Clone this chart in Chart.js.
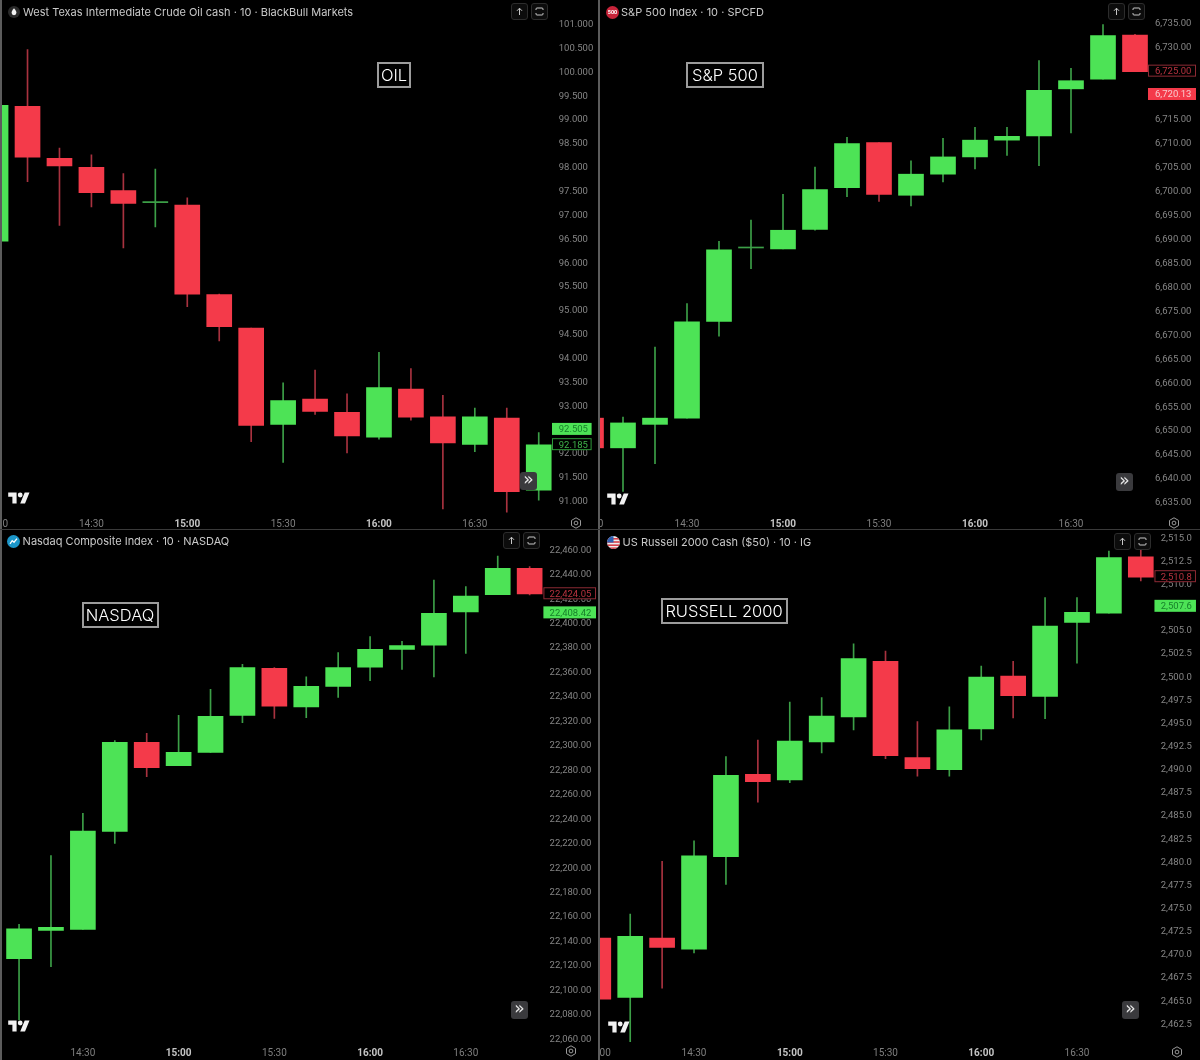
<!DOCTYPE html>
<html>
<head>
<meta charset="utf-8">
<title>Index futures 10m</title>
<script src="https://cdn.jsdelivr.net/npm/chart.js@4"></script>
<style>
	html, body { margin: 0; background: #000; }
	#page { position: relative; width: 1200px; height: 1060px; background: #000; overflow: hidden; }
	.panel { position: absolute; overflow: hidden; background: #000; }
	.panel canvas { position: absolute; top: 0; }
	.rule { position: absolute; background: #5c5c5c; }
	.title { position: absolute; color: #c9c9c9; font: 11px Inter, sans-serif; white-space: nowrap; line-height: 14px; }
	.tag { position: absolute; border: 2px solid #9c9c9c; color: #fff; font: 300 16.5px Inter, sans-serif; box-sizing: border-box; text-align: center; line-height: 22px; white-space: nowrap; }
	.btn { position: absolute; width: 17px; height: 17px; border: 1px solid #2c2c2c; border-radius: 3px; box-sizing: border-box; background: #0c0c0c; }
	.more { position: absolute; width: 17px; height: 18px; border-radius: 3px; background: #3a3a3d; color: #e6e6e6; font: 17px/15px "DejaVu Sans", sans-serif; text-align: center; }
	svg.abs { position: absolute; }
</style>
</head>
<body>
<div id="page"></div>
<script>
// bar times, 10 minute candles
const times = ["14:00", "14:10", "14:20", "14:30", "14:40", "14:50", "15:00", "15:10", "15:20", "15:30", "15:40", "15:50", "16:00", "16:10", "16:20", "16:30", "16:40", "16:50"]
const nasdaqTimes = times.slice(1)
const timeLabels = ["14:00", "14:30", "15:00", "15:30", "16:00", "16:30"]
const boldTimes = ["15:00", "16:00"]

const oilOpen = [96.44, 99.27, 98.18, 97.99, 97.50, 97.25, 97.20, 95.32, 94.62, 92.60, 93.13, 92.85, 92.33, 93.34, 92.76, 92.18, 92.73, 91.22]
const oilClose = [99.29, 98.20, 98.02, 97.46, 97.23, 97.27, 95.33, 94.65, 92.58, 93.10, 92.87, 92.36, 93.37, 92.75, 92.21, 92.76, 91.19, 92.17]
const oilHigh = [99.29, 100.46, 98.39, 98.25, 97.86, 97.95, 97.35, 95.33, 94.62, 93.47, 93.74, 93.24, 94.11, 93.77, 93.21, 92.94, 92.94, 92.43]
const oilLow = [96.44, 97.69, 96.77, 97.16, 96.30, 96.74, 95.07, 94.35, 92.24, 91.80, 92.81, 92.00, 92.29, 92.69, 90.83, 92.03, 90.76, 91.01]
const oilTicks = [101, 100.5, 100, 99.5, 99, 98.5, 98, 97.5, 97, 96.5, 96, 95.5, 95, 94.5, 94, 93.5, 93, 92.5, 92, 91.5, 91]
const oilTagValues = [92.505, 92.185]
const oilTagFilled = [true, false]
const oilTagUp = [true, true]

const spxOpen = [6652.5, 6646.3, 6651.2, 6652.5, 6672.7, 6688.0, 6687.8, 6691.9, 6700.6, 6710.0, 6699.0, 6703.4, 6707.0, 6710.5, 6711.4, 6721.2, 6723.2, 6732.4]
const spxClose = [6646.3, 6651.5, 6652.5, 6672.6, 6687.6, 6688.2, 6691.7, 6700.2, 6709.8, 6699.2, 6703.4, 6707.0, 6710.5, 6711.3, 6720.9, 6722.9, 6732.3, 6724.8]
const spxHigh = [6652.5, 6652.7, 6667.3, 6676.4, 6689.4, 6693.8, 6699.2, 6704.9, 6711.1, 6710.0, 6706.2, 6710.9, 6713.2, 6713.2, 6727.1, 6725.5, 6734.6, 6732.6]
const spxLow = [6646.3, 6637.2, 6643.0, 6652.5, 6669.6, 6683.7, 6687.8, 6691.7, 6698.7, 6697.7, 6696.8, 6701.8, 6704.5, 6707.3, 6705.2, 6712.0, 6723.2, 6724.8]
const spxTicks = [6735, 6730, 6725, 6720, 6715, 6710, 6705, 6700, 6695, 6690, 6685, 6680, 6675, 6670, 6665, 6660, 6655, 6650, 6645, 6640, 6635]
const spxTagValues = [6725.00, 6720.13]
const spxTagFilled = [false, true]
const spxTagUp = [false, false]

const ndxOpen = [22125.1, 22148.3, 22149.1, 22229.3, 22302.1, 22283.0, 22293.9, 22324.2, 22362.6, 22331.0, 22347.9, 22363.7, 22378.2, 22381.5, 22408.7, 22422.9, 22444.5]
const ndxClose = [22149.6, 22150.7, 22229.5, 22302.1, 22281.4, 22293.9, 22323.4, 22363.2, 22331.6, 22347.9, 22363.2, 22378.2, 22381.2, 22407.6, 22421.8, 22444.5, 22423.5]
const ndxHigh = [22153.2, 22209.4, 22244.0, 22303.5, 22309.5, 22324.2, 22345.5, 22365.9, 22363.2, 22355.6, 22375.5, 22388.6, 22384.7, 22434.9, 22429.5, 22454.5, 22445.8]
const ndxLow = [22075.0, 22118.6, 22149.1, 22219.5, 22274.0, 22283.0, 22293.9, 22318.2, 22321.7, 22322.3, 22338.9, 22352.6, 22361.8, 22355.6, 22374.9, 22422.9, 22422.6]
const ndxTicks = [22460, 22440, 22420, 22400, 22380, 22360, 22340, 22320, 22300, 22280, 22260, 22240, 22220, 22200, 22180, 22160, 22140, 22120, 22100, 22080, 22060]
const ndxTagValues = [22424.05, 22408.42]
const ndxTagFilled = [false, true]
const ndxTagUp = [false, true]

const rutOpen = [2471.7, 2465.3, 2471.7, 2470.5, 2480.5, 2489.4, 2488.8, 2492.9, 2495.6, 2501.6, 2491.2, 2489.9, 2494.3, 2500.0, 2497.8, 2505.8, 2506.8, 2512.9]
const rutClose = [2465.1, 2471.9, 2470.7, 2480.6, 2489.3, 2488.6, 2493.0, 2495.7, 2501.9, 2491.4, 2490.0, 2494.2, 2499.9, 2497.9, 2505.4, 2506.9, 2512.8, 2510.7]
const rutHigh = [2471.7, 2474.3, 2480.0, 2482.2, 2491.3, 2493.1, 2497.2, 2497.7, 2503.5, 2502.7, 2495.1, 2496.7, 2501.1, 2501.6, 2508.5, 2508.5, 2513.5, 2513.6]
const rutLow = [2465.1, 2460.5, 2466.3, 2470.1, 2477.5, 2486.4, 2488.5, 2491.7, 2494.2, 2491.1, 2489.2, 2489.2, 2493.1, 2495.5, 2495.4, 2501.4, 2506.8, 2510.3]
const rutTicks = [2515, 2512.5, 2510, 2507.5, 2505, 2502.5, 2500, 2497.5, 2495, 2492.5, 2490, 2487.5, 2485, 2482.5, 2480, 2477.5, 2475, 2472.5, 2470, 2467.5, 2465, 2462.5]
const rutTagValues = [2510.8, 2507.6]
const rutTagFilled = [false, true]
const rutTagUp = [false, true]

const green = "#4de356"
const red = "#f43a4a"
const greenWick = "#3c9f47"
const redWick = "#a8323f"

const page = document.getElementById("page")

function addEl(parent, cls, css, html) {
	const el = document.createElement("div")
	el.className = cls
	el.style.cssText = css
	if (html) el.innerHTML = html
	parent.appendChild(el)
	return el
}

const priceFormat = (digits, commas) => (v) =>
	commas ? v.toLocaleString("en-US", { minimumFractionDigits: digits, maximumFractionDigits: digits }) : v.toFixed(digits)

// last price and countdown boxes on the price scale
const tagPlugin = (cfg) => ({
	id: "drawTags",
	afterDraw(chart) {
		const y = chart.scales.y
		const ctx = chart.ctx
		const R = chart.chartArea.right
		cfg.tagValues.forEach((v, i) => {
			const py = y.getPixelForValue(v)
			const up = cfg.tagUp[i]
			ctx.save()
			if (cfg.tagFilled[i]) {
				ctx.fillStyle = up ? green : red
				ctx.fillRect(R + cfg.boxOffset, py - 6, cfg.boxWidth, 12)
				ctx.fillStyle = up ? "#17802a" : "#f9c9cd"
			} else {
				ctx.fillStyle = "#000"
				ctx.fillRect(R + cfg.boxOffset, py - 6, cfg.boxWidth, 12)
				ctx.strokeStyle = up ? "#2f9a3a" : "#8c2a34"
				ctx.lineWidth = 1
				ctx.strokeRect(R + cfg.boxOffset + 0.5, py - 5.5, cfg.boxWidth - 1, 11)
				ctx.fillStyle = up ? "#3fb34a" : "#b8323f"
			}
			ctx.font = "9.5px Roboto"
			ctx.textBaseline = "middle"
			ctx.fillText(cfg.fmt(v), R + 4, py + 1)
			ctx.restore()
		})
	},
})

function buildChart(cfg) {
	const panel = addEl(page, "panel", `left:${cfg.x}px;top:${cfg.y}px;width:${cfg.w}px;height:${cfg.h}px`)
	const canvas = document.createElement("canvas")
	const canvasW = cfg.w - cfg.canvasLeft
	canvas.width = canvasW
	canvas.height = cfg.h
	canvas.style.left = cfg.canvasLeft + "px"
	canvas.style.width = canvasW + "px"
	canvas.style.height = cfg.h + "px"
	panel.appendChild(canvas)

	const colorOf = (i) => {
		const up = cfg.close[i] >= cfg.open[i]
		if (Math.abs(cfg.close[i] - cfg.open[i]) < cfg.dojiSize) return up ? greenWick : redWick
		return up ? green : red
	}
	const wickColorOf = (i) => (cfg.close[i] >= cfg.open[i] ? greenWick : redWick)

	new Chart(canvas, {
		type: "bar",
		data: {
			labels: cfg.labels,
			datasets: [
				{
					label: "body",
					data: cfg.open.map((o, i) => [o, cfg.close[i]]),
					backgroundColor: (c) => colorOf(c.dataIndex),
					barThickness: 25,
					minBarLength: 1,
					grouped: false,
					order: 1,
				},
				{
					label: "wick",
					data: cfg.low.map((l, i) => [l, cfg.high[i]]),
					backgroundColor: (c) => wickColorOf(c.dataIndex),
					barThickness: 1,
					grouped: false,
					order: 2,
				},
			],
		},
		options: {
			responsive: false,
			animation: false,
			devicePixelRatio: 1,
			events: [],
			layout: { padding: { left: cfg.padLeft, right: 0, top: 0, bottom: 0 } },
			plugins: {
				legend: { display: false },
				tooltip: { enabled: false },
			},
			scales: {
				x: {
					grid: { display: false, drawTicks: false },
					border: { display: false },
					ticks: {
						autoSkip: false,
						maxRotation: 0,
						padding: cfg.timePad,
						callback(value) {
							const label = this.getLabelForValue(value)
							return timeLabels.includes(label) ? label : ""
						},
						color: (c) => (boldTimes.includes(c.tick.label) ? "#c4c4c4" : "#7f7f7f"),
						font: (c) => ({ family: "Roboto", size: 10, weight: boldTimes.includes(c.tick.label) ? "bold" : "normal" }),
					},
					afterFit(s) {
						s.height = cfg.h - cfg.plotBottom
						s.paddingLeft = 0
						s.paddingRight = 0
					},
				},
				y: {
					position: "right",
					min: cfg.yMin,
					max: cfg.yMax,
					grid: { display: false, drawTicks: false },
					border: { display: false },
					afterBuildTicks(s) {
						s.ticks = cfg.ticks.map((value) => ({ value }))
					},
					ticks: {
						autoSkip: false,
						padding: 4,
						labelOffset: 1,
						color: "#858585",
						font: { family: "Roboto", size: 9.5 },
						callback: (v) => cfg.fmt(v),
					},
					afterFit(s) {
						s.width = cfg.axisW
						s.paddingTop = 0
						s.paddingBottom = 0
					},
				},
			},
		},
		plugins: [tagPlugin(cfg)],
	})
}

buildChart({
	x: 0, y: 0, w: 598, h: 528, canvasLeft: -21, padLeft: 0.6, axisW: 43.3, plotBottom: 514, timePad: 4,
	labels: times, open: oilOpen, close: oilClose, high: oilHigh, low: oilLow, ticks: oilTicks,
	yMin: 90.721, yMax: 101.497, dojiSize: 0.03, fmt: priceFormat(3, false),
	tagValues: oilTagValues, tagFilled: oilTagFilled, tagUp: oilTagUp, boxOffset: -2.7, boxWidth: 39.6,
})
buildChart({
	x: 600, y: 0, w: 600, h: 528, canvasLeft: -25, padLeft: 0, axisW: 49, plotBottom: 514, timePad: 4,
	labels: times, open: spxOpen, close: spxClose, high: spxHigh, low: spxLow, ticks: spxTicks,
	yMin: 6632.5, yMax: 6739.74, dojiSize: 0.3, fmt: priceFormat(2, true),
	tagValues: spxTagValues, tagFilled: spxTagFilled, tagUp: spxTagUp, boxOffset: -3, boxWidth: 48,
})
buildChart({
	x: 0, y: 530, w: 598, h: 530, canvasLeft: 0, padLeft: 3.1, axisW: 52.4, plotBottom: 512, timePad: 5,
	labels: nasdaqTimes, open: ndxOpen, close: ndxClose, high: ndxHigh, low: ndxLow, ticks: ndxTicks,
	yMin: 22057.0, yMax: 22475.8, dojiSize: 0.5, fmt: priceFormat(2, true),
	tagValues: ndxTagValues, tagFilled: ndxTagFilled, tagUp: ndxTagUp, boxOffset: -2.2, boxWidth: 52.6,
})
buildChart({
	x: 600, y: 530, w: 600, h: 530, canvasLeft: -18, padLeft: 0.34, axisW: 43.24, plotBottom: 512, timePad: 5,
	labels: times, open: rutOpen, close: rutClose, high: rutHigh, low: rutLow, ticks: rutTicks,
	yMin: 2460.48, yMax: 2515.79, dojiSize: 0.05, fmt: priceFormat(1, true),
	tagValues: rutTagValues, tagFilled: rutTagFilled, tagUp: rutTagUp, boxOffset: -2.3, boxWidth: 41.5,
})

// dividers between the four screenshots
addEl(page, "rule", "left:0;top:0;width:1.5px;height:1060px")
addEl(page, "rule", "left:598px;top:0;width:2px;height:1060px")
addEl(page, "rule", "left:0;top:528.5px;width:1200px;height:1px;background:#3a3a3a")

// chart headers
const titles = [
	["West Texas Intermediate Crude Oil cash · 10 · BlackBull Markets", 23, 5],
	["S&amp;P 500 Index · 10 · SPCFD", 621, 5],
	["Nasdaq Composite Index · 10 · NASDAQ", 22.6, 534],
	["US Russell 2000 Cash ($50) · 10 · IG", 622.6, 535],
]
titles.forEach(([t, x, y]) => addEl(page, "title", `left:${x}px;top:${y}px`, t))

const boxes = [
	["OIL", 377, 62, 34, 26],
	["S&amp;P 500", 686, 62, 78, 26],
	["NASDAQ", 81.5, 602, 77, 26],
	["RUSSELL 2000", 660.5, 598, 127, 26],
]
boxes.forEach(([t, x, y, w, h]) => addEl(page, "tag", `left:${x}px;top:${y}px;width:${w}px;height:${h}px`, t))

const svgAt = (x, y, w, h, vb, body) => {
	page.insertAdjacentHTML("beforeend", `<svg class="abs" style="left:${x}px;top:${y}px" width="${w}" height="${h}" viewBox="${vb}">${body}</svg>`)
}

// symbol icons
svgAt(7.5, 6, 12, 12, "0 0 12 12", `<circle cx="6" cy="6" r="6" fill="#2a2a2a"/><path d="M6 2.2C7.6 4.2 8.4 5.4 8.4 6.8A2.4 2.4 0 0 1 3.6 6.8C3.6 5.4 4.4 4.2 6 2.2Z" fill="#f2f2f2"/>`)
svgAt(605.5, 6, 13, 13, "0 0 13 13", `<circle cx="6.5" cy="6.5" r="6.5" fill="#c8243a"/><text x="6.5" y="8.4" text-anchor="middle" font-family="Roboto" font-size="5.4" font-weight="bold" fill="#fff">500</text>`)
svgAt(7, 534.5, 13, 13, "0 0 13 13", `<circle cx="6.5" cy="6.5" r="6.5" fill="#1b96c9"/><path d="M3 8.8 5.2 5.6 7 7.2 10 3.6" fill="none" stroke="#fff" stroke-width="1.3"/>`)
svgAt(606.5, 536, 13, 13, "0 0 13 13", `<clipPath id="flag"><circle cx="6.5" cy="6.5" r="6.5"/></clipPath><g clip-path="url(#flag)"><rect width="13" height="13" fill="#eee"/><rect y="2" width="13" height="1.6" fill="#d8404a"/><rect y="5.2" width="13" height="1.6" fill="#d8404a"/><rect y="8.4" width="13" height="1.6" fill="#d8404a"/><rect y="11.4" width="13" height="1.6" fill="#d8404a"/><rect width="6.5" height="6.5" fill="#2f5fb0"/></g>`)

// top right buttons
const upIcon = `<path d="M6.5 10V3.4M4 5.8 6.5 3.2 9 5.8" fill="none" stroke="#c8c8c8" stroke-width="1"/>`
const fullIcon = `<path d="M3 5V4a1 1 0 0 1 1-1h5a1 1 0 0 1 1 1v1M3 8v1a1 1 0 0 0 1 1h5a1 1 0 0 0 1-1V8" fill="none" stroke="#c8c8c8" stroke-width="1"/>`
const buttons = [[511, 531, 2.5], [1108, 1128, 3], [503, 523, 531.5], [1114, 1134, 533]]
buttons.forEach(([a, b, y]) => {
	addEl(page, "btn", `left:${a}px;top:${y}px`)
	addEl(page, "btn", `left:${b}px;top:${y}px`)
	svgAt(a + 2, y + 2, 13, 13, "0 0 13 13", upIcon)
	svgAt(b + 2, y + 2, 13, 13, "0 0 13 13", fullIcon)
})

// go to realtime buttons
const mores = [[520, 472], [1116, 472.5], [511, 1001], [1122, 1001]]
mores.forEach(([x, y]) => addEl(page, "more", `left:${x}px;top:${y}px`, "»"))

// tradingview marks
const logos = [[8, 491.5], [607, 492.5], [8, 1020], [608, 1021]]
logos.forEach(([x, y]) =>
	svgAt(x, y, 22, 12, "0 3 36 20", `<path fill="#f2f2f2" d="M14 22H7V11H0V4h14v18zM28 22h-8l7.5-18h8L28 22z"/><circle cx="20" cy="8" r="4" fill="#f2f2f2"/>`)
)

// settings icons
const gears = [[576, 522.7], [1174, 523.3], [571, 1051.3], [1177, 1051.7]]
gears.forEach(([x, y]) =>
	svgAt(x - 6, y - 6, 12, 12, "0 0 12 12", `<path d="M6 .8 10.5 3.4V8.6L6 11.2 1.5 8.6V3.4Z" fill="none" stroke="#9a9a9a" stroke-width="1"/><circle cx="6" cy="6" r="1.9" fill="none" stroke="#9a9a9a" stroke-width="1"/>`)
)
</script>
</body>
</html>
